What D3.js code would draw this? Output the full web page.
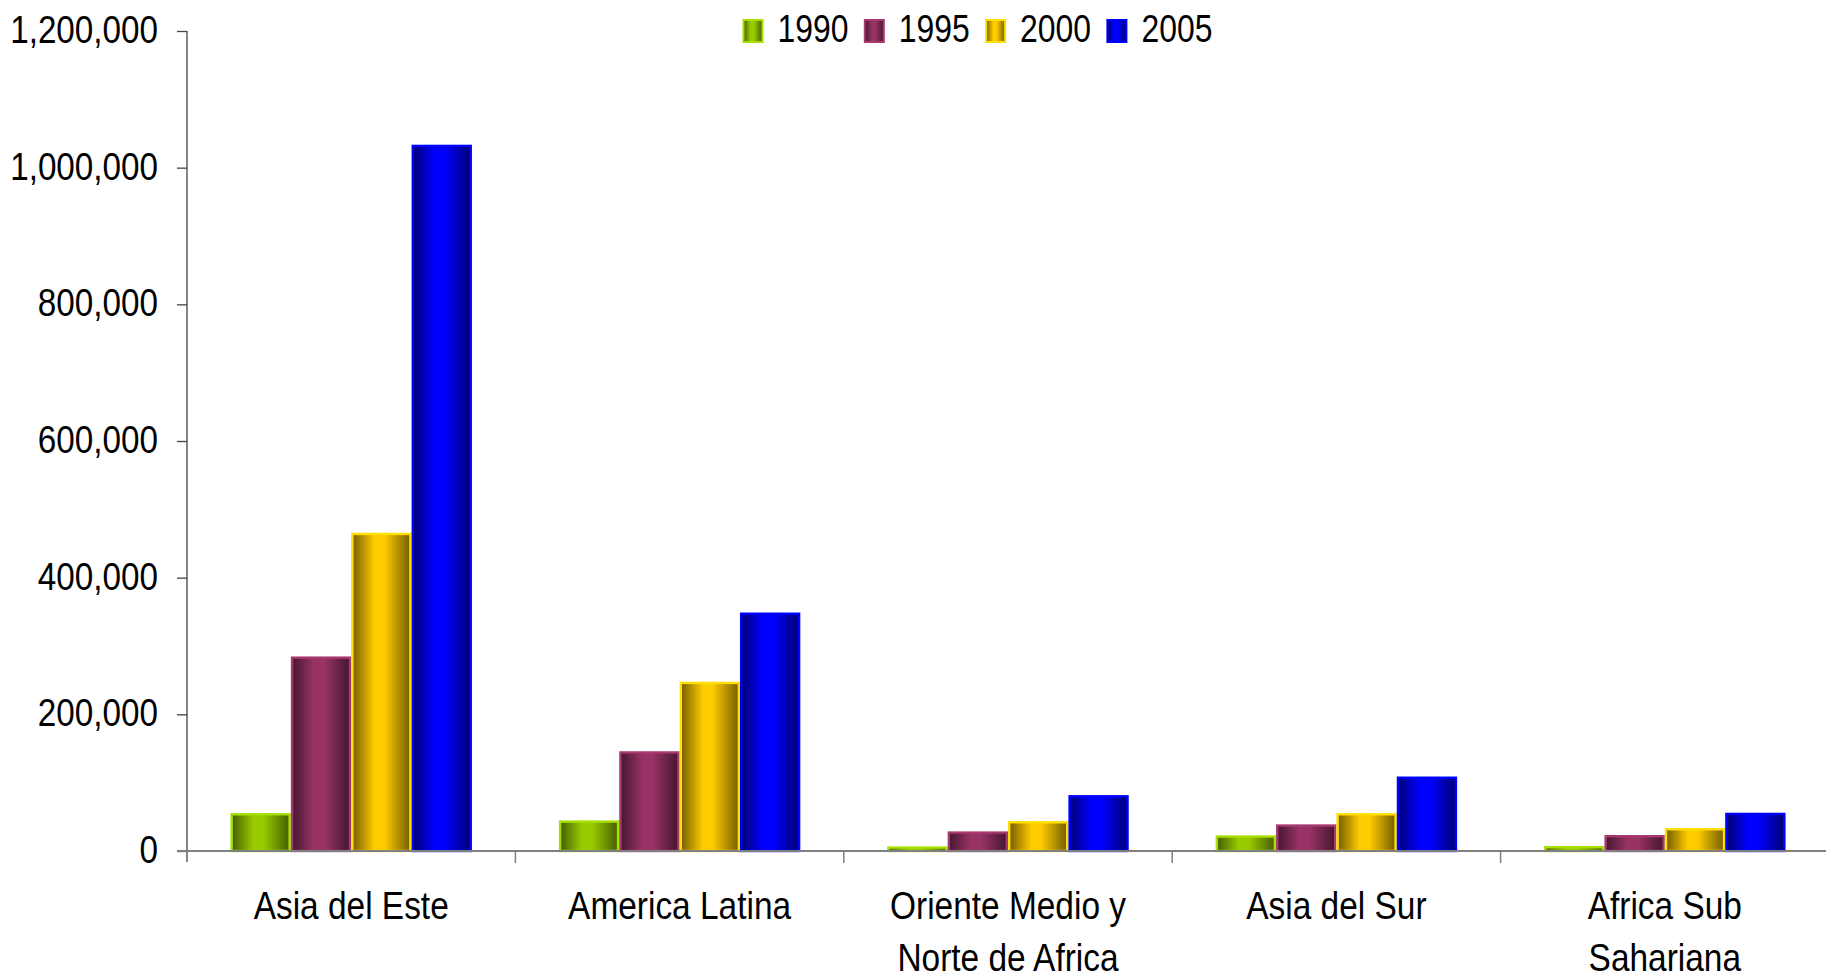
<!DOCTYPE html>
<html>
<head>
<meta charset="utf-8">
<script src="https://cdn.jsdelivr.net/npm/d3@7/dist/d3.min.js"></script>
<style>
  html, body { margin: 0; padding: 0; background: #ffffff; }
  svg { display: block; }
  text { font-family: "Liberation Sans", Arial, sans-serif; fill: #000; }
</style>
</head>
<body>
<svg id="chart" width="1826" height="980"></svg>
<script>
// ---- data ----
const categories = ["Asia del Este", "America Latina", "Oriente Medio y Norte de Africa", "Asia del Sur", "Africa Sub Sahariana"];
const categoryLines = [["Asia del Este"], ["America Latina"], ["Oriente Medio y", "Norte de Africa"], ["Asia del Sur"], ["Africa Sub", "Sahariana"]];
const years = ["1990", "1995", "2000", "2005"];
const values1990 = [55500, 44800, 6800, 22900, 7300];
const values1995 = [284700, 146000, 28700, 39000, 23400];
const values2000 = [465700, 247700, 43800, 55500, 33600];
const values2005 = [1033600, 349000, 81800, 109000, 56000];
const yTickValues = [0, 200000, 400000, 600000, 800000, 1000000, 1200000];
const colors = ["#99CC00", "#993366", "#FFCC00", "#0000FF"];

const seriesValues = [values1990, values1995, values2000, values2005];

// ---- layout ----
const plotLeft = 187, plotRight = 1829, plotTop = 31, plotBottom = 851;
const svg = d3.select("#chart");
const defs = svg.append("defs");

const x = d3.scaleBand().domain(categories).range([plotLeft, plotRight]).paddingInner(0).paddingOuter(0);
const xi = d3.scaleBand().domain(years).range([0, x.bandwidth()]).paddingInner(0).paddingOuter(0.72);
const y = d3.scaleLinear().domain([0, 1200000]).range([plotBottom, plotTop]);

// gradients
years.forEach((yr, i) => {
  const base = d3.color(colors[i]);
  const dark = d3.rgb(base.r * 0.45, base.g * 0.45, base.b * 0.45);
  const g = defs.append("linearGradient").attr("id", "grad" + yr)
    .attr("x1", "0%").attr("x2", "100%").attr("y1", "0%").attr("y2", "0%");
  g.append("stop").attr("offset", "0%").attr("stop-color", dark);
  g.append("stop").attr("offset", "38%").attr("stop-color", base);
  g.append("stop").attr("offset", "55%").attr("stop-color", base);
  g.append("stop").attr("offset", "100%").attr("stop-color", dark);
});

// bars
const groups = svg.append("g").selectAll("g").data(categories).join("g")
  .attr("transform", d => `translate(${x(d)},0)`);
groups.each(function(cat, ci) {
  d3.select(this).selectAll("rect").data(years).join("rect")
    .attr("x", yr => xi(yr) + 1.2)
    .attr("width", xi.bandwidth() - 2.4)
    .attr("y", (yr, si) => y(seriesValues[si][ci]) + 1.2)
    .attr("height", (yr, si) => Math.max(0, plotBottom - y(seriesValues[si][ci]) - 1.2))
    .attr("fill", yr => `url(#grad${yr})`)
    .attr("stroke", (yr, si) => d3.color(colors[si]).brighter(0.25))
    .attr("stroke-width", 2.4);
});

// compress helper
function squeeze(sel, k) {
  sel.each(function() {
    const t = d3.select(this);
    const xv = +(t.attr("x") || 0);
    t.attr("x", xv / k).attr("transform", `scale(${k},1)`);
  });
}

// y axis
const yAxis = svg.append("g").attr("transform", `translate(${plotLeft},0)`)
  .call(d3.axisLeft(y).tickValues(yTickValues).tickFormat(d3.format(",")).tickSize(10).tickPadding(19));
yAxis.select(".domain").attr("stroke", "#444").attr("stroke-width", 1.3).attr("d", `M0,${plotTop}V${plotBottom + 11}`);
yAxis.selectAll(".tick line").attr("stroke", "#444").attr("stroke-width", 1.3);
yAxis.selectAll(".tick text").style("font-size", "38px").style("font-family", '"Liberation Sans", Arial, sans-serif')
  .attr("fill", "#000").attr("dy", "0.3em");
squeeze(yAxis.selectAll(".tick text"), 0.875);

// x axis baseline and ticks at band boundaries
const xAxis = svg.append("g");
xAxis.append("line").attr("x1", plotLeft - 10).attr("x2", plotRight).attr("y1", plotBottom).attr("y2", plotBottom)
  .attr("stroke", "#808080").attr("stroke-width", 2);
const boundaries = categories.slice(1).map(c => x(c));
xAxis.selectAll("line.tk").data(boundaries).join("line").attr("class", "tk")
  .attr("x1", d => d).attr("x2", d => d).attr("y1", plotBottom).attr("y2", plotBottom + 12)
  .attr("stroke", "#808080").attr("stroke-width", 1.5);

// category labels
const labels = svg.append("g").selectAll("g").data(categories).join("g")
  .attr("transform", d => `translate(${x(d) + x.bandwidth() / 2},${plotBottom + 68})`);
labels.each(function(cat, ci) {
  d3.select(this).selectAll("text").data(categoryLines[ci]).join("text")
    .attr("x", 0).attr("y", (l, li) => li * 52)
    .attr("text-anchor", "middle").style("font-size", "38px").text(l => l);
});
squeeze(labels.selectAll("text"), 0.88);

// legend
const legend = svg.append("g").selectAll("g").data(years).join("g")
  .attr("transform", (d, i) => `translate(${742.5 + i * 121.3},0)`);
legend.append("rect").attr("x", 1).attr("y", 20).attr("width", 19).attr("height", 22)
  .attr("fill", d => `url(#grad${d})`)
  .attr("stroke", (d, i) => d3.color(colors[i]).brighter(0.25)).attr("stroke-width", 2);
legend.append("text").attr("x", 35).attr("y", 42.5).style("font-size", "38px").text(d => d);
squeeze(legend.selectAll("text"), 0.84);
</script>
</body>
</html>
